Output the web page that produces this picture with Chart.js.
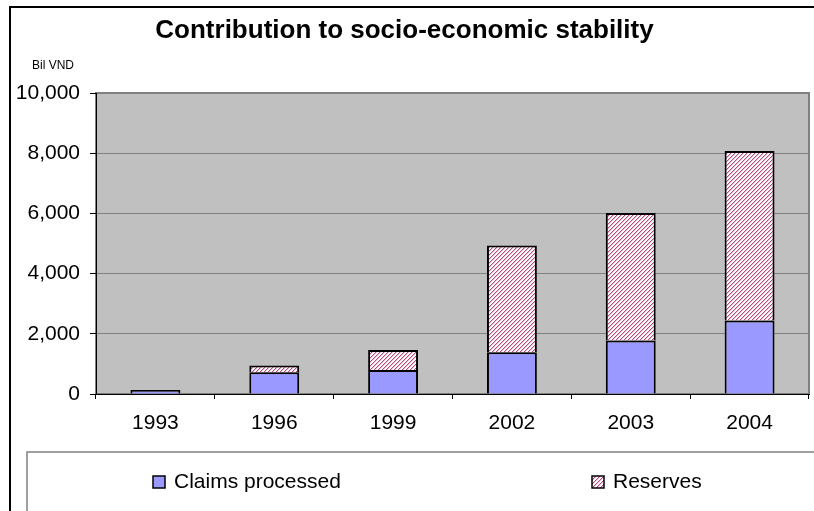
<!DOCTYPE html>
<html>
<head>
<meta charset="utf-8">
<title>Contribution to socio-economic stability</title>
<script src="https://cdn.jsdelivr.net/npm/chart.js@4/dist/chart.umd.min.js"></script>
<style>
  html, body { margin: 0; padding: 0; background: #fff; }
  #wrap { width: 814px; height: 511px; position: relative; }
</style>
</head>
<body>
<div id="wrap"><canvas id="chart" width="814" height="511"></canvas></div>
<script>
// Years shown on the category axis
const years = ['1993', '1996', '1999', '2002', '2003', '2004'];
// Claims processed, billion VND
const claimsProcessed = [130, 720, 800, 1390, 1780, 2440];
// Reserves, billion VND (stacked on top of claims)
const reserves = [0, 225, 665, 3545, 4230, 5635];
// Series names
const seriesNames = ['Claims processed', 'Reserves'];
const unitLabel = 'Bil VND';
const chartTitle = 'Contribution to socio-economic stability';

const FONT = "'Liberation Sans', Arial, sans-serif";

// Upward diagonal hatch used for the reserves series
function makeHatch() {
  const c = document.createElement('canvas');
  c.width = 4; c.height = 4;
  const g = c.getContext('2d');
  const img = g.createImageData(4, 4);
  for (let y = 0; y < 4; y++) {
    for (let x = 0; x < 4; x++) {
      const i = (y * 4 + x) * 4;
      const k = (x + y) % 4;
      let r = 255, gg = 255, b = 255;
      if (k === 3) { r = 0xb8; gg = 0x48; b = 0x80; }
      else if (k === 0) { r = 0xea; gg = 0xc0; b = 0xd4; }
      img.data[i] = r; img.data[i + 1] = gg; img.data[i + 2] = b; img.data[i + 3] = 255;
    }
  }
  g.putImageData(img, 0, 0);
  return g.createPattern(c, 'repeat');
}

const ctx = document.getElementById('chart').getContext('2d');
const hatch = makeHatch();

// Background, outer frame, plot-area fill and legend panel
const framePlugin = {
  id: 'frame',
  beforeDraw(chart) {
    const c = chart.ctx;
    const a = chart.chartArea;
    c.save();
    c.fillStyle = '#ffffff';
    c.fillRect(0, 0, chart.width, chart.height);
    // outer chart border
    c.strokeStyle = '#000000';
    c.lineWidth = 2;
    c.strokeRect(10, 7, chart.width + 50, chart.height + 50);
    // plot area
    c.fillStyle = '#c0c0c0';
    c.fillRect(a.left, a.top, a.right - a.left, a.bottom - a.top);
    c.strokeStyle = '#808080';
    c.lineWidth = 2;
    c.strokeRect(a.left, a.top, a.right - a.left, a.bottom - a.top);
    // legend panel
    c.fillStyle = '#ffffff';
    c.fillRect(27, 452, chart.width, chart.height);
    c.strokeStyle = '#808080';
    c.lineWidth = 1.5;
    c.strokeRect(27, 452, chart.width + 50, chart.height + 50);
    c.restore();
  },
  afterDraw(chart) {
    const c = chart.ctx;
    c.save();
    // unit label above the value axis
    c.fillStyle = '#000';
    c.font = '12px ' + FONT;
    c.textAlign = 'center';
    c.textBaseline = 'middle';
    c.fillText(unitLabel, 53, 66);
    // legend entries
    const xs = [153, 592];
    c.font = '21px ' + FONT;
    c.textAlign = 'left';
    chart.data.datasets.forEach((ds, i) => {
      const x = xs[i], y = 476;
      c.fillStyle = ds.backgroundColor;
      c.fillRect(x, y, 12, 12);
      c.strokeStyle = '#000';
      c.lineWidth = 1.5;
      c.strokeRect(x, y, 12, 12);
      c.fillStyle = '#000';
      c.fillText(ds.label, x + 21, y + 6);
    });
    c.restore();
  }
};

new Chart(ctx, {
  type: 'bar',
  data: {
    labels: years,
    datasets: [
      {
        label: seriesNames[0],
        data: claimsProcessed,
        backgroundColor: '#9999ff',
        borderColor: '#000000',
        borderWidth: 2
      },
      {
        label: seriesNames[1],
        data: reserves,
        backgroundColor: hatch,
        borderColor: '#000000',
        borderWidth: 2
      }
    ]
  },
  options: {
    responsive: false,
    animation: false,
    events: [],
    datasets: {
      bar: { categoryPercentage: 1.0, barPercentage: 0.42 }
    },
    layout: { padding: { left: 0, right: 5, top: 0, bottom: 67 } },
    plugins: {
      legend: { display: false },
      tooltip: { enabled: false },
      title: {
        display: true,
        text: chartTitle,
        color: '#000',
        font: { family: FONT, size: 26, weight: 'bold' },
        padding: { top: 15, bottom: 46.8 }
      }
    },
    scales: {
      x: {
        stacked: true,
        grid: { drawOnChartArea: false, tickColor: '#000', tickLength: 5, tickWidth: 1, offset: true },
        border: { color: '#000', width: 1 },
        ticks: { color: '#000', font: { family: FONT, size: 21 }, padding: 12, maxRotation: 0 },
        afterFit(s) { s.height = 50; }
      },
      y: {
        stacked: true,
        min: 0,
        max: 10000,
        grid: { color: '#808080', lineWidth: 1, tickColor: '#000', tickLength: 6, tickWidth: 1 },
        border: { color: '#000', width: 1 },
        ticks: {
          stepSize: 2000,
          color: '#000',
          font: { family: FONT, size: 21 },
          padding: 10,
          callback: v => v.toLocaleString('en-US')
        },
        afterFit(s) { s.width = 96; }
      }
    }
  },
  plugins: [framePlugin]
});
</script>
</body>
</html>
